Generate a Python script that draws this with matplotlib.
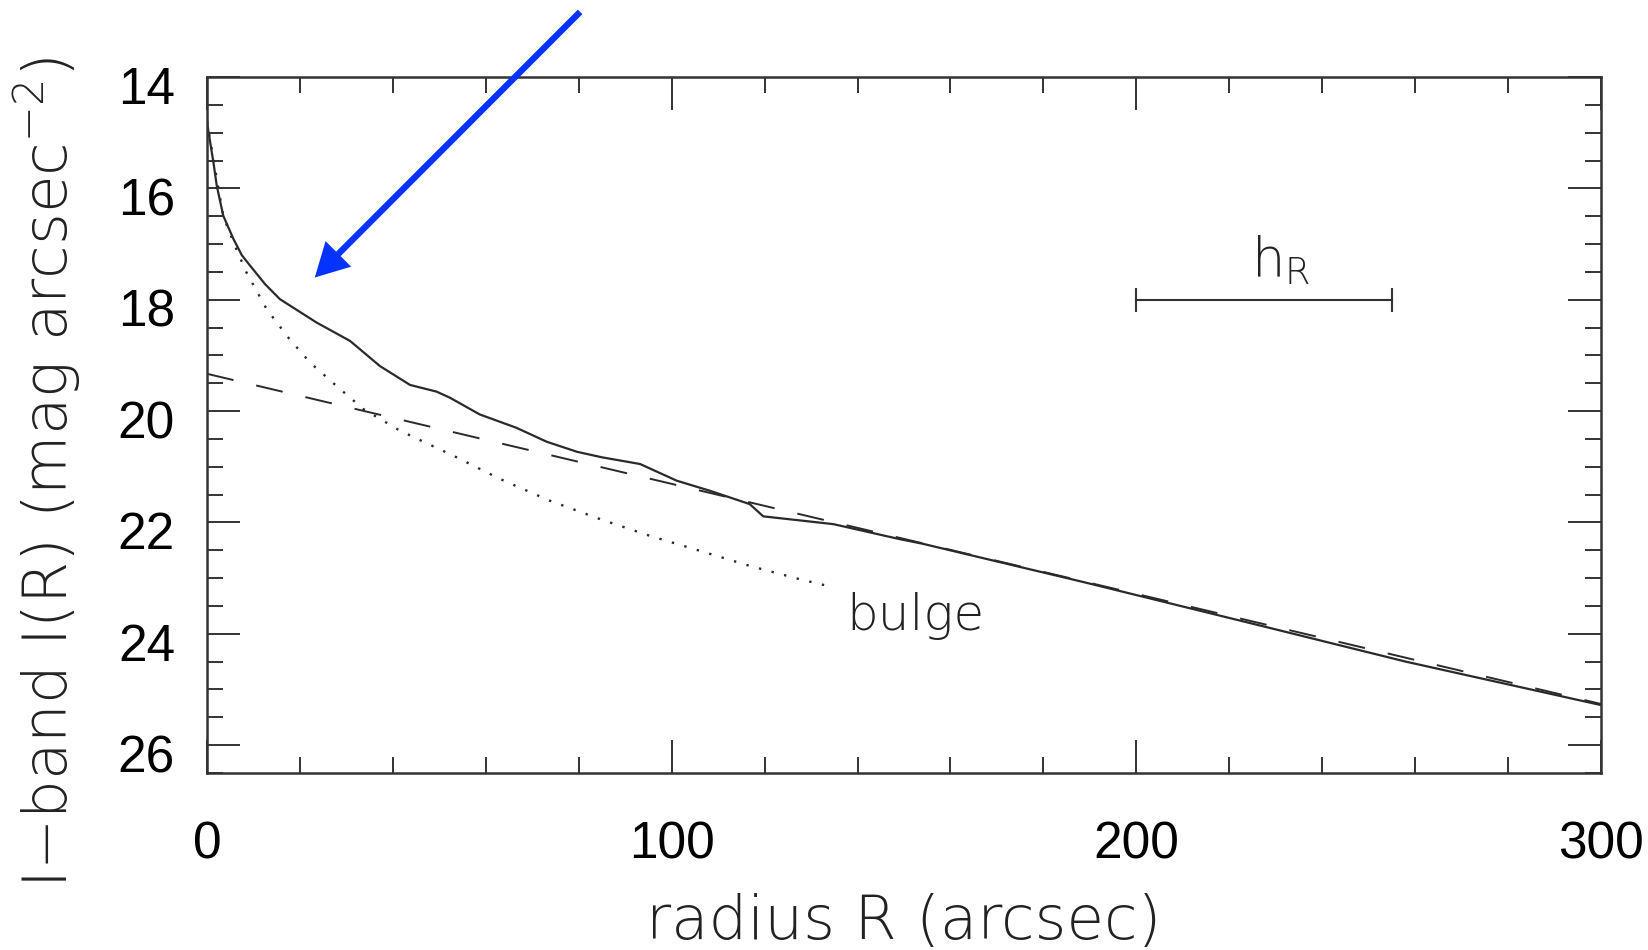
import matplotlib
matplotlib.use("Agg")
import matplotlib.pyplot as plt
from matplotlib.ticker import MultipleLocator
from matplotlib.transforms import ScaledTranslation

# measured I-band surface brightness profile (solid line)
radius_total = [0, 0.3, 1.4, 2.1, 3.5, 5.7, 7.5, 9.3, 12.5, 15.7, 23.6, 30.8, 37.2,
                43.7, 49.4, 52.3, 58.7, 66.6, 73.1, 79.6, 85, 93.2, 101.1, 108.2,
                116.8, 119.7, 134.8, 149.1, 153.9, 188.6, 229, 258, 300]
mu_total = [14.8, 14.97, 15.54, 15.95, 16.49, 16.91, 17.2, 17.39, 17.72, 17.99,
            18.41, 18.74, 19.19, 19.53, 19.65, 19.76, 20.06, 20.3, 20.55, 20.73,
            20.83, 20.95, 21.25, 21.43, 21.67, 21.89, 22.03, 22.3, 22.38, 23.07,
            23.9, 24.5, 25.28]

# bulge model (dotted)
radius_bulge = [0, 3.5, 6.0, 8.5, 12.85, 17.5, 22.2, 27.9, 33.6, 41.5, 49.4,
                53, 63.1, 73.8, 84.6, 95.3, 106.1, 116.8, 127.6, 134.1]
mu_bulge = [14.8, 16.5, 17.03, 17.51, 18.17, 18.68, 19.13, 19.55, 19.96, 20.35,
            20.66, 20.8, 21.22, 21.61, 21.94, 22.24, 22.51, 22.78, 23.02, 23.15]

# exponential disk model (dashed)
radius_disk = [0, 300]
mu_disk = [19.33, 25.26]

# scale length bar h_R
hr_radius = [200, 255]
hr_mu = [18.0, 18.0]

plt.rcParams['font.family'] = ['DejaVu Sans']
plt.rcParams['mathtext.default'] = 'regular'

ink = '#333333'
label_col = '#222222'
line_col = '#2a2a2a'

fig = plt.figure(figsize=(16.48, 9.5), dpi=100)
ax = fig.add_axes([0.1256, 0.1863, 0.8459, 0.7326])

ax.plot(radius_total, mu_total, color=line_col, lw=1.6)
ax.plot(radius_bulge, mu_bulge, color=line_col, lw=1.7, ls=(0, (1, 4.5)))
ax.plot(radius_disk, mu_disk, color=line_col, lw=1.4, ls=(0, (14, 12)))
ax.plot(hr_radius, hr_mu, color=ink, lw=1.5, marker='|', ms=17, mew=1.5)

ax.text(231, 17.57, r'h$_{R}$', fontsize=38, color=label_col, ha='center', va='baseline',
        fontweight=200)
ax.text(137.5, 23.94, 'bulge', fontsize=36, color=label_col, ha='left', va='baseline',
        fontweight=200)

# blue arrow pointing at the inner profile
ax.annotate('', xy=(23.2, 17.6), xytext=(80.3, 12.83), annotation_clip=False,
            arrowprops=dict(arrowstyle='simple,head_length=24,head_width=26,tail_width=4.6',
                            mutation_scale=1, color='#0433ff', lw=0,
                            shrinkA=0, shrinkB=0))

ax.set_xlim(0, 300)
ax.set_ylim(26.5, 14)
ax.xaxis.set_major_locator(MultipleLocator(100))
ax.xaxis.set_minor_locator(MultipleLocator(20))
ax.yaxis.set_major_locator(MultipleLocator(2))
ax.yaxis.set_minor_locator(MultipleLocator(0.5))

for s in ax.spines.values():
    s.set_linewidth(1.8)
    s.set_color(ink)

ax.tick_params(which='both', direction='in', top=True, right=True, color=ink, width=1.4)
ax.tick_params(which='major', length=23.8)
ax.tick_params(which='minor', length=11.5)
ax.tick_params(axis='x', which='major', pad=34, labelsize=37)
ax.tick_params(axis='y', which='major', pad=23, labelsize=37)

for lab in ax.get_xticklabels() + ax.get_yticklabels():
    lab.set_fontfamily('Liberation Sans')
shift = ScaledTranslation(0, -8 / 100, fig.dpi_scale_trans)
for lab in ax.get_yticklabels():
    lab.set_transform(lab.get_transform() + shift)

ax.set_xlabel('radius R (arcsec)', fontsize=44, color=label_col, va='baseline', fontweight=200)
ax.xaxis.set_label_coords(0.5, -0.238)
ax.set_ylabel('I\u2212band I(R) (mag arcsec$^{-2}$)', fontsize=44, color=label_col,
              va='baseline', fontweight=200)
ax.yaxis.set_label_coords(-0.0995, 0.4318)

fig.savefig('out.png', dpi=100)
